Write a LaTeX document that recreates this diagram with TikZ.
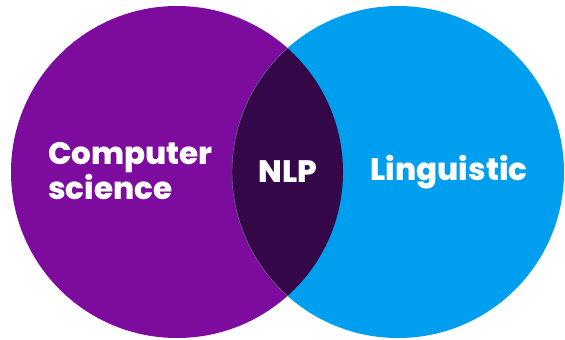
\documentclass[tikz,border=0pt]{standalone}
\usepackage{fontspec}
\setmainfont{Poppins}[BoldFont={Poppins ExtraBold}]
\definecolor{cspurple}{RGB}{125,12,158}
\definecolor{lingblue}{RGB}{0,158,238}
\definecolor{nlpdark}{RGB}{51,7,72}

\begin{document}
\begin{tikzpicture}[x={(1pt,0pt)},y={(0pt,-1pt)},
	lbl/.style={text=white,font=\bfseries\fontsize{31}{35}\selectfont,inner sep=0pt}]
	\useasboundingbox (0,0) rectangle (565,340);
	\fill[cspurple] (177,172) circle[radius=166];
	\fill[lingblue] (398,172) circle[radius=166];
	\begin{scope}
		\clip (177,172) circle[radius=166];
		\fill[nlpdark,draw=nlpdark!60!white,line width=0.4pt] (398,172) circle[radius=166];
	\end{scope}
	\node[lbl,anchor=west,align=left] (cs) at (48,171) {Computer\\science};
	\node[lbl] (nlp) at (288,172) {NLP};
	\node[lbl] (ling) at (449,172) {Linguistic};
\end{tikzpicture}
\end{document}
